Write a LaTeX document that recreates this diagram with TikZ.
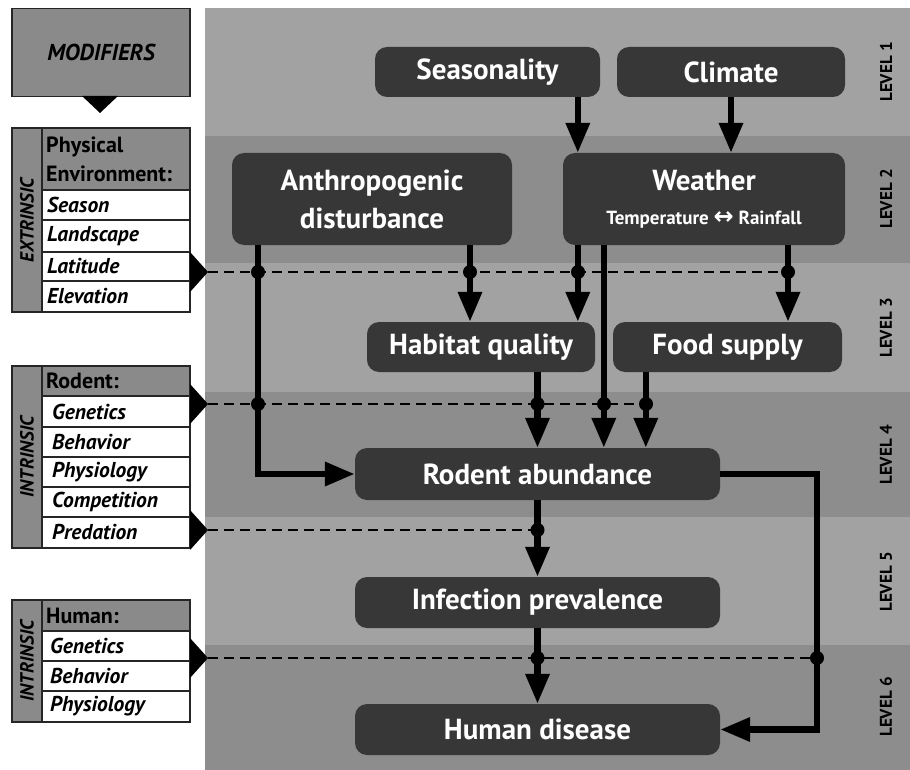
\documentclass[tikz,border=0pt]{standalone}
\usepackage{fontspec}
\setmainfont{PT Sans}
\newfontfamily\symfont{DejaVu Sans}
\usetikzlibrary{arrows.meta,calc}
\definecolor{bandL}{RGB}{162,162,162}
\definecolor{bandD}{RGB}{141,141,141}
\definecolor{boxc}{RGB}{55,55,55}
\definecolor{hdrc}{RGB}{138,138,138}
\begin{document}
\begin{tikzpicture}[x=1pt,y=-1pt,
  box/.style={fill=boxc, rounded corners=12pt, text=white, inner sep=0pt,
    font=\bfseries\fontsize{29}{31}\selectfont, align=center},
  conn/.style={line width=6.5pt, -{Triangle[length=30pt,width=23pt]}},
  dsh/.style={line width=2.8pt, dash pattern=on 10pt off 6pt},
  frame/.style={draw=black!85, line width=1.4pt},
  rowtxt/.style={anchor=west, font=\bfseries\itshape\fontsize{21.5}{24}\selectfont, inner sep=0pt},
  hdrtxt/.style={anchor=west, font=\bfseries\fontsize{22}{29}\selectfont, inner sep=0pt, align=left},
  sidetxt/.style={rotate=90, font=\bfseries\itshape\fontsize{19}{20}\selectfont, inner sep=0pt},
  lvl/.style={rotate=90, font=\bfseries\fontsize{17}{18}\selectfont, inner sep=0pt}
]
\useasboundingbox (0,0) rectangle (910,770);
\fill[white] (0,0) rectangle (910,770);
% level bands
\fill[bandL] (205,8) rectangle (910,136);
\fill[bandD] (205,136) rectangle (910,263);
\fill[bandL] (205,263) rectangle (910,392);
\fill[bandD] (205,392) rectangle (910,517);
\fill[bandL] (205,517) rectangle (910,645);
\fill[bandD] (205,645) rectangle (910,770);
\node[lvl] (lv1) at (886,72) {LEVEL 1};
\node[lvl] (lv2) at (886,199) {LEVEL 2};
\node[lvl] (lv3) at (886,328) {LEVEL 3};
\node[lvl] (lv4) at (886,455) {LEVEL 4};
\node[lvl] (lv5) at (886,582) {LEVEL 5};
\node[lvl] (lv6) at (886,707) {LEVEL 6};

% main boxes
\node[box, minimum width=225, minimum height=50] (seas) at (487.5,72) {Seasonality};
\node[box, minimum width=228, minimum height=50] (clim) at (731,72) {Climate};
\node[box, minimum width=280, minimum height=92] (anth) at (372,199) {Anthropogenic\\[7pt]disturbance};
\node[box, minimum width=282, minimum height=92] (weat) at (704,199) {Weather\\[3pt]{\fontsize{19}{22}\selectfont Temperature {\symfont\fontsize{24}{22}\selectfont ↔} Rainfall}};
\node[box, minimum width=228, minimum height=50] (habi) at (481,347) {Habitat quality};
\node[box, minimum width=229, minimum height=50] (food) at (727.5,347) {Food supply};
\node[box, minimum width=365, minimum height=52] (rode) at (537.5,474) {Rodent abundance};
\node[box, minimum width=365, minimum height=51] (infe) at (537.5,602.5) {Infection prevalence};
\node[box, minimum width=365, minimum height=51] (huma) at (537.5,729.5) {Human disease};

% modifier panels
\node[frame, fill=hdrc, minimum width=178, minimum height=88, inner sep=0pt,
  font=\bfseries\itshape\fontsize{23}{26}\selectfont] (mod) at (101,52.5) {MODIFIERS};
\fill (82,96) -- (118,96) -- (100,113) -- cycle;

% extrinsic
\fill[hdrc] (12,128) rectangle (190,190);
\fill[hdrc] (12,190) rectangle (42,312);
\fill[white] (42,190) rectangle (190,312);
\draw[frame] (12,128) rectangle (190,312);
\draw[frame] (42,128) -- (42,312);
\foreach \y in {190,220,252,281} \draw[frame] (42,\y) -- (190,\y);
\node[sidetxt] (ext) at (27,220) {EXTRINSIC};
\node[hdrtxt] (ph) at (46,159) {Physical\\Environment:};
\node[rowtxt] (r1) at (47,205) {Season};
\node[rowtxt] (r2) at (47,236) {Landscape};
\node[rowtxt] (r3) at (47,266.5) {Latitude};
\node[rowtxt] (r4) at (47,296.5) {Elevation};

% rodent
\fill[hdrc] (12,366) rectangle (190,396);
\fill[hdrc] (12,396) rectangle (42,548);
\fill[white] (42,396) rectangle (190,548);
\draw[frame] (12,366) rectangle (190,548);
\draw[frame] (42,366) -- (42,548);
\foreach \y in {396,427,457,487,517} \draw[frame] (42,\y) -- (190,\y);
\node[sidetxt] (int1) at (27,457) {INTRINSIC};
\node[hdrtxt] (rh) at (46,381) {Rodent:};
\node[rowtxt] (s1) at (52,411.5) {Genetics};
\node[rowtxt] (s2) at (52,442) {Behavior};
\node[rowtxt] (s3) at (52,472) {Physiology};
\node[rowtxt] (s4) at (52,502) {Competition};
\node[rowtxt] (s5) at (52,532.5) {Predation};

% human
\fill[hdrc] (12,600) rectangle (190,631);
\fill[hdrc] (12,631) rectangle (42,722);
\fill[white] (42,631) rectangle (190,722);
\draw[frame] (12,600) rectangle (190,722);
\draw[frame] (42,600) -- (42,722);
\foreach \y in {631,661,691} \draw[frame] (42,\y) -- (190,\y);
\node[sidetxt] (int2) at (27,661) {INTRINSIC};
\node[hdrtxt] (hh) at (46,615.5) {Human:};
\node[rowtxt] (u1) at (50,646) {Genetics};
\node[rowtxt] (u2) at (50,676) {Behavior};
\node[rowtxt] (u3) at (50,706.5) {Physiology};

% modifier triangles
\coordinate (m1) at (208,272);
\coordinate (m2) at (208,404);
\coordinate (m3) at (208,530);
\coordinate (m4) at (208,658);
\foreach \m in {m1,m2,m3,m4} \fill ($(\m)+(-18,-20)$) -- (\m) -- ($(\m)+(-18,20)$) -- cycle;

% dashed modifier lines
\coordinate (e1) at (788,272);
\coordinate (e2) at (646,404);
\coordinate (e3) at (537.5,530);
\coordinate (e4) at (817,658);
\draw[dsh] (m1) -- (e1);
\draw[dsh] (m2) -- (e2);
\draw[dsh] (m3) -- (e3);
\draw[dsh] (m4) -- (e4);

% connectors
\coordinate (xa) at ([xshift=26pt]anth.south west);
\coordinate (xb) at ([xshift=-11pt]habi.north);
\coordinate (xc) at ([xshift=15pt]weat.north west);
\coordinate (xd) at ([xshift=41pt]weat.south west);
\coordinate (xe) at ([xshift=60.5pt]food.north);
\coordinate (xg) at ([xshift=33pt]food.south west);
\coordinate (rc) at (817,474);

\draw[conn] (clim.south) -- (clim.south |- weat.north);
\draw[conn] (xc |- seas.south) -- (xc);
\draw[conn] (xa) |- (rode.west);
\draw[conn] (anth.south -| xb) -- (xb);
\draw[conn] (weat.south -| xc) -- (habi.north -| xc);
\draw[conn] (xd) -- (rode.north -| xd);
\draw[conn] (weat.south -| xe) -- (xe);
\draw[conn] (habi.south -| rode.north) -- (rode.north);
\draw[conn] (xg) -- (rode.north -| xg);
\draw[conn] (rode.south) -- (infe.north);
\draw[conn] (infe.south) -- (huma.north);
\draw[conn] (rode.east) -- (rc) |- (huma.east);

% junction dots
\foreach \p in {(258,272),(470,272),(578,272),(788,272),
                (258,404),(537.5,404),(604,404),(646,404),
                (537.5,530),(537.5,658),(817,658)}
  \fill \p circle (7);
\end{tikzpicture}
\end{document}
